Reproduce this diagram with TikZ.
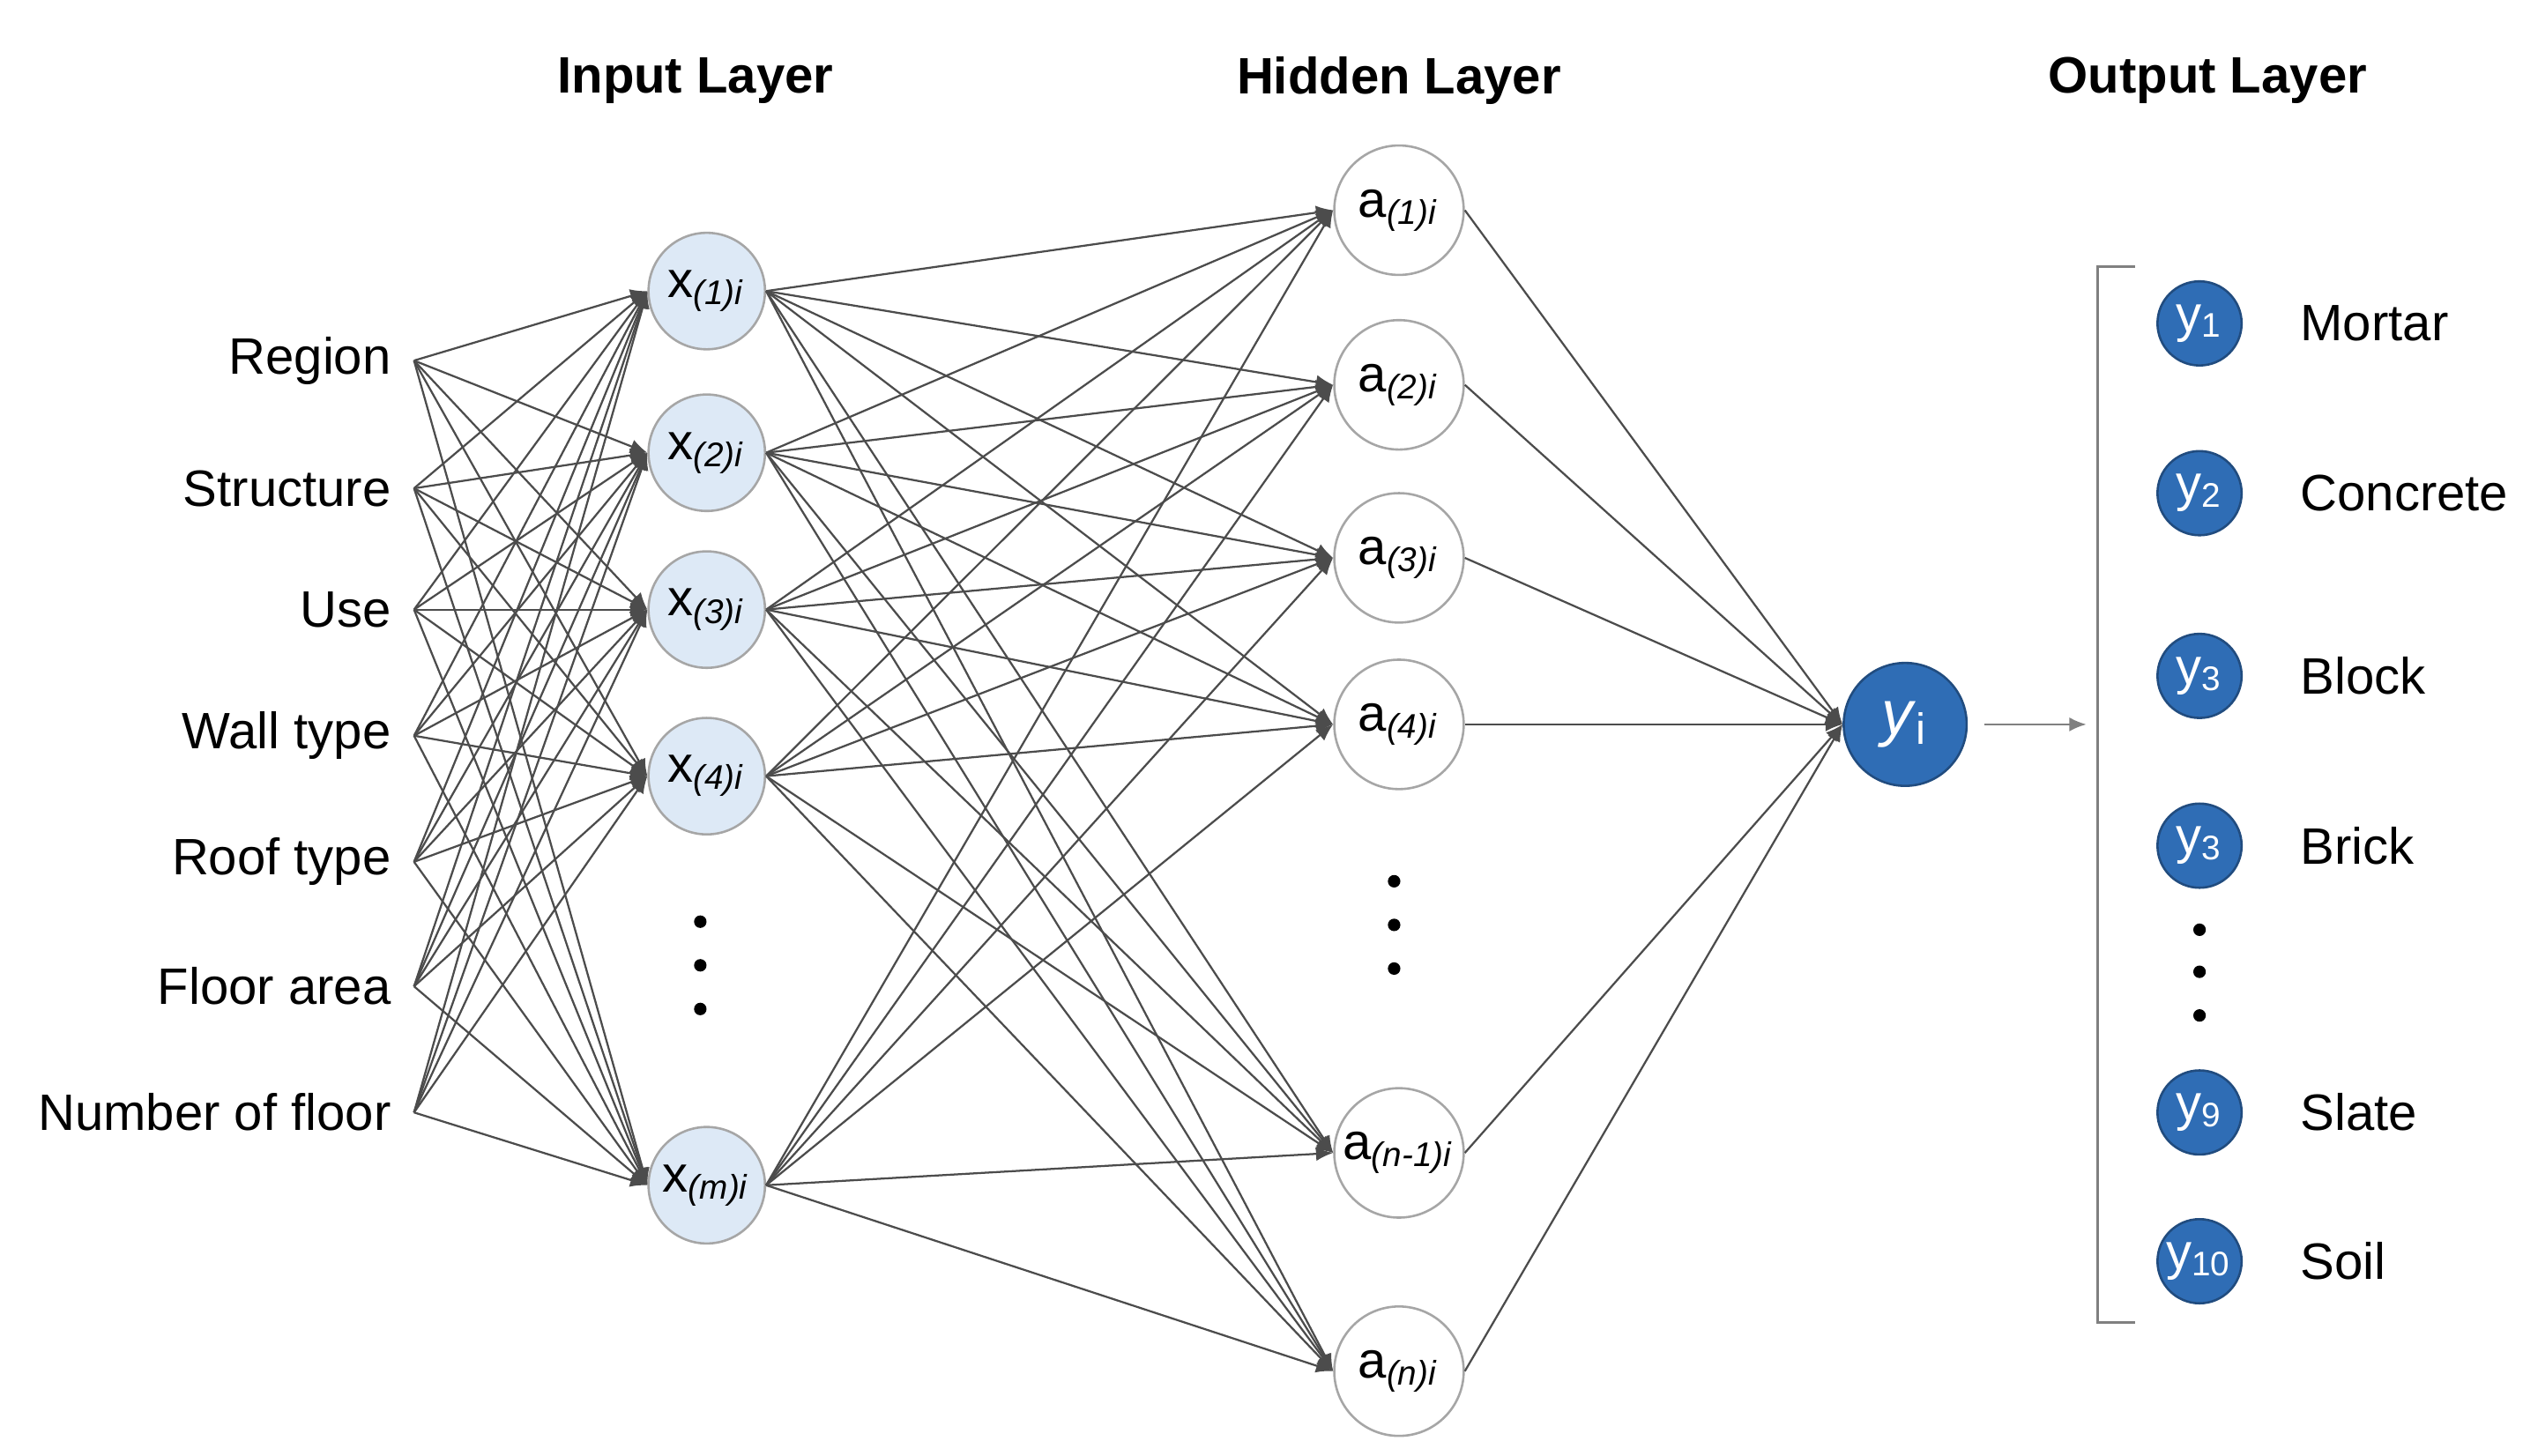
\documentclass[tikz,border=0pt]{standalone}
\usepackage{fontspec}
\setmainfont{Liberation Sans}
\usetikzlibrary{arrows.meta, positioning}
\definecolor{nodeblue}{HTML}{2F6DB5}
\definecolor{lightblue}{HTML}{DDE9F6}

\begin{document}
\begin{tikzpicture}[
    x=0.01cm, y=-0.01cm,
    % Define styles
    feature/.style={anchor=east, inner sep=1pt, font=\fontsize{9}{11}\selectfont},
    input/.style={circle, draw=gray!70, fill=lightblue, minimum size=0.72cm, inner sep=0pt, font=\fontsize{9}{11}\selectfont},
    hidden/.style={circle, draw=gray!70, fill=white, minimum size=0.8cm, inner sep=0pt, font=\fontsize{9}{11}\selectfont},
    outnode/.style={circle, fill=nodeblue, draw=nodeblue!70!black, text=white, minimum size=0.76cm, inner sep=0pt, font=\fontsize{11}{12}\selectfont},
    cls/.style={circle, fill=nodeblue, draw=nodeblue!70!black, text=white, minimum size=0.52cm, inner sep=0pt, font=\fontsize{9}{11}\selectfont},
    clslabel/.style={anchor=west, font=\fontsize{9}{11}\selectfont},
    header/.style={font=\fontsize{9}{11}\selectfont\bfseries},
    link/.style={draw=black!70, line width=0.35pt, -{Latex[length=3pt,width=2.5pt]}},
    dot/.style={circle, fill=black, inner sep=0pt, minimum size=2.2pt},
    ]
    \useasboundingbox (0,0) rectangle (1560,900);

    % Headers
    \node[header] (hin) at (430,50) {Input Layer};
    \node[header] (hhid) at (865,50) {Hidden Layer};
    \node[header] (hout) at (1365,50) {Output Layer};

    % Features
    \foreach \t [count=\i] / \y in {Region/223, Structure/302, Use/377, Wall type/455, Roof type/533, Floor area/610, Number of floor/688}
        \node[feature] (f\i) at (246,\y) {\t};

    % Input nodes
    \foreach \s [count=\i] / \y in {1/180, 2/280, 3/377, 4/480, m/733}
        \node[input] (x\i) at (437,\y) {x\textsubscript{\textit{(\s)i}}};
    \foreach \y in {570,597,624} \node[dot] at (433,\y) {};

    % Hidden nodes
    \foreach \s [count=\i] / \y in {1/130, 2/238, 3/345, 4/448, n-1/713, n/848}
        \node[hidden] (a\i) at (865,\y) {a\textsubscript{\textit{(\s)i}}};
    \foreach \y in {545,572,599} \node[dot] at (862,\y) {};

    % Output
    \node[outnode] (y) at (1178,448) {\textit{y}\textsubscript{i}};
    \coordinate (bk) at (1290,448);

    % Connections
    \foreach \i in {1,...,7}
        \foreach \j in {1,...,5}
            \draw[link] (f\i.east) ++(10,0) -- (x\j.west);
    \foreach \i in {1,...,5}
        \foreach \j in {1,...,6}
            \draw[link] (x\i.east) -- (a\j.west);
    \foreach \j in {1,...,6}
        \draw[link] (a\j.east) -- (y.west);
    \draw[link, draw=gray] (y.east) ++(10,0) -- (bk);

    % Classes
    \draw[gray, line width=0.5pt] (1320,165) -- (1297,165) -- (1297,818) -- (1320,818);
    \foreach \s [count=\i] / \t / \y in {1/Mortar/200, 2/Concrete/305, 3/Block/418, 3/Brick/523, 9/Slate/688, 10/Soil/780}
    {
        \node[cls] (c\i) at (1360,\y) {y\textsubscript{\s}};
        \node[clslabel] (l\i) at (1410,\y) {\t};
    }
    \foreach \y in {575,601,628} \node[dot] at (1360,\y) {};
\end{tikzpicture}
\end{document}
